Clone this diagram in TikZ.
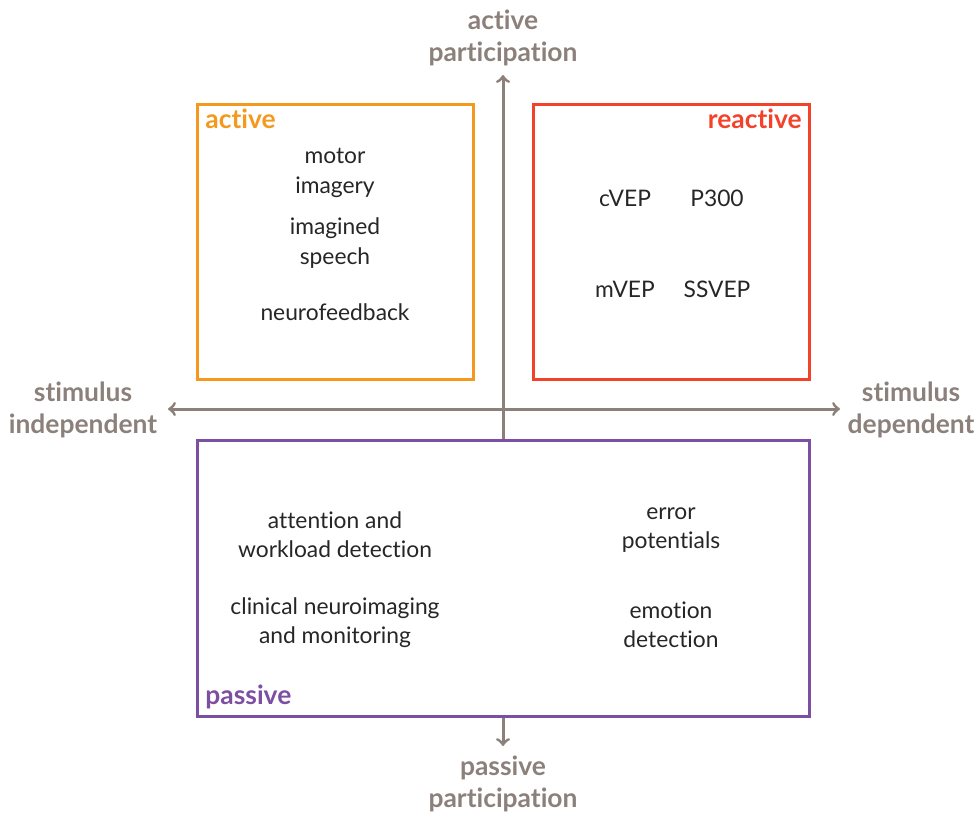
\documentclass[tikz,border=0pt]{standalone}
\usepackage{fontspec}
\setmainfont{Lato}[Ligatures=NoCommon]
\usepackage{tikz}
\definecolor{axgray}{HTML}{8C807A}
\definecolor{actorange}{HTML}{F39A1E}
\definecolor{reacred}{HTML}{F2432A}
\definecolor{passpurple}{HTML}{7D4FA3}

\begin{document}
\begin{tikzpicture}[x=0.5pt, y=-0.5pt,
    quadbox/.style = {draw, line width=1.5pt, inner sep=0pt, minimum width=138pt, minimum height=137.5pt},
    axline/.style = {draw=axgray, line width=1.5pt},
    axlabel/.style = {text=axgray, font=\fontsize{13.2}{16}\selectfont\bfseries, align=center, inner sep=0pt},
    boxlabel/.style = {font=\fontsize{13.2}{16}\selectfont\bfseries, inner sep=0pt},
    item/.style = {text=black!85, font=\fontsize{11.4}{14.6}\selectfont, align=center, inner sep=0pt}]
            \useasboundingbox (0,0) rectangle (978,814);

            \node[quadbox, draw=actorange] (activebox) at (335,241.5) {};
            \node[quadbox, draw=reacred] (reactivebox) at (671,241.5) {};
            \node[quadbox, draw=passpurple, minimum width=306pt, minimum height=138pt] (passivebox) at (503,578) {};

            \node[boxlabel, text=actorange, anchor=base west] (activelab) at (205,128) {active};
            \node[boxlabel, text=reacred, anchor=base east] (reactivelab) at (802,128) {reactive};
            \node[boxlabel, text=passpurple, anchor=base west] (passivelab) at (205,704) {passive};

            \node[axlabel] (actpart) at (503,38) {active\\participation};
            \node[axlabel] (paspart) at (503,784) {passive\\participation};
            \node[axlabel] (indep) at (83,410) {stimulus\\independent};
            \node[axlabel] (dep) at (911,410) {stimulus\\dependent};

            \coordinate (axtop) at (503,75);
            \coordinate (axbottom) at (503,746);
            \coordinate (axleft) at (168,409);
            \coordinate (axright) at (840,409);
            \draw[axline, ->] (passivebox.north) -- (axtop);
            \draw[axline, ->] (passivebox.south) -- (axbottom);
            \draw[axline, <->] (axleft) -- (axright);

            \node[item] (motor) at (335,173) {motor\\imagery};
            \node[item] (speech) at (335,243) {imagined\\speech};
            \node[item] (neurofb) at (335,312) {neurofeedback};

            \node[item] (cvep) at (625,198) {cVEP};
            \node[item] (p300) at (717,198) {P300};
            \node[item] (mvep) at (625,289) {mVEP};
            \node[item] (ssvep) at (717,289) {SSVEP};

            \node[item] (attention) at (335,535) {attention and\\workload detection};
            \node[item] (clinical) at (335,623) {clinical neuroimaging\\and monitoring};
            \node[item] (errpot) at (671,530) {error\\potentials};
            \node[item] (emotion) at (671,625) {emotion\\detection};
\end{tikzpicture}
\end{document}
